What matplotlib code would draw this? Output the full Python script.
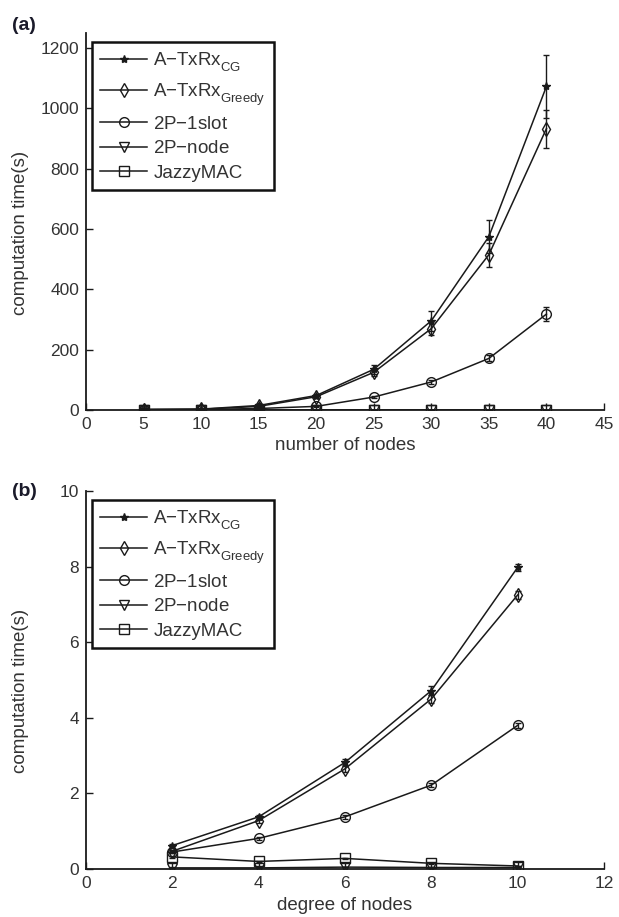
import matplotlib
matplotlib.use("Agg")
import matplotlib.pyplot as plt
import numpy as np

try:
    import matplotlib._mathtext as _mt
    _mt.FontConstantsBase.sub1 = 0.65
    _mt.FontConstantsBase.sub2 = 0.75
except Exception:
    pass

plt.rcParams['font.family'] = ['Liberation Sans', 'DejaVu Sans']
plt.rcParams['mathtext.fontset'] = 'custom'
plt.rcParams['mathtext.rm'] = 'Liberation Sans'
plt.rcParams['mathtext.it'] = 'Liberation Sans:italic'

labels = [r'A$-$TxRx$_{\mathrm{CG}}$', r'A$-$TxRx$_{\mathrm{Greedy}}$',
          r'2P$-$1slot', r'2P$-$node', 'JazzyMAC']
markers = ['*', 'd', 'o', 'v', 's']

# Panel (a): number of nodes
nodes = [5, 10, 15, 20, 25, 30, 35, 40]
a_cg = [2, 3, 15, 48, 135, 296, 575, 1073]
a_cg_err = [0.5, 1, 3, 6, 14, 33, 54, 104]
a_greedy = [1.5, 2.5, 12, 44, 125, 270, 515, 933]
a_greedy_err = [0.5, 1, 2, 5, 12, 22, 40, 63]
a_1slot = [1, 1.5, 5, 12, 43, 93, 171, 318]
a_1slot_err = [0.2, 0.3, 1, 2, 4, 8, 10, 22]
a_node = [1, 1, 1, 1, 1, 1, 1, 1]
a_node_err = [0.1, 0.1, 0.1, 0.1, 0.1, 0.1, 0.1, 0.1]
a_jazzy = [1, 1, 1, 1, 1, 1, 1, 1]
a_jazzy_err = [0.1, 0.1, 0.1, 0.1, 0.1, 0.1, 0.1, 0.1]

# Panel (b): degree of nodes
degree = [2, 4, 6, 8, 10]
b_cg = [0.62, 1.38, 2.82, 4.72, 7.98]
b_cg_err = [0.05, 0.06, 0.08, 0.12, 0.1]
b_greedy = [0.47, 1.28, 2.65, 4.5, 7.25]
b_greedy_err = [0.04, 0.05, 0.08, 0.1, 0.1]
b_1slot = [0.45, 0.81, 1.38, 2.22, 3.8]
b_1slot_err = [0.03, 0.04, 0.05, 0.06, 0.06]
b_node = [0.03, 0.03, 0.05, 0.04, 0.04]
b_node_err = [0.01, 0.01, 0.01, 0.01, 0.01]
b_jazzy = [0.32, 0.2, 0.28, 0.15, 0.08]
b_jazzy_err = [0.02, 0.02, 0.02, 0.01, 0.01]

W, H = 619, 917
fig = plt.figure(figsize=(W / 100, H / 100), dpi=100)

col = '#1a1a1a'
tcol = '#333333'


def panel(rect, x, ys, errs, xlim, xticks, ylim, yticks, xlabel, tag, tagpos):
    ax = fig.add_axes(rect)
    handles = []
    for y, e, m, lab in zip(ys, errs, markers, labels):
        ms = 7 if m != '*' else 6
        cont = ax.errorbar(x, y, yerr=e, color=col, lw=1.1, marker=m, ms=ms,
                           mfc='none' if m != '*' else col, mec=col, mew=1.0,
                           capsize=2.5, elinewidth=1.0, label=lab)
        handles.append(cont[0])
    ax.set_xlim(*xlim)
    ax.set_ylim(*ylim)
    ax.set_xticks(xticks)
    ax.set_yticks(yticks)
    ax.spines['top'].set_visible(False)
    ax.spines['right'].set_visible(False)
    for s in ('left', 'bottom'):
        ax.spines[s].set_color(col)
        ax.spines[s].set_linewidth(1.3)
    ax.tick_params(direction='in', length=5, width=1, colors=col,
                   labelcolor=tcol, labelsize=12.5, pad=5)
    ax.set_xlabel(xlabel, fontsize=13.5, color=tcol, labelpad=4)
    ax.set_ylabel('computation time(s)', fontsize=13.5, color=tcol)
    ax.yaxis.set_label_coords(-(rect[0] * W - 29) / (rect[2] * W), 0.47)
    ax_h = rect[3] * H
    leg = ax.legend(handles, labels, loc='upper left',
                    bbox_to_anchor=(6 / (rect[2] * W), 1 - 9 / ax_h),
                    borderaxespad=0,
                    fontsize=13.5, handlelength=2.5, handletextpad=0.32,
                    labelspacing=0.4, borderpad=0.45, fancybox=False,
                    framealpha=1, edgecolor='#111111')
    leg.get_frame().set_linewidth(1.8)
    for t in leg.get_texts():
        t.set_color(tcol)
    fig.text(tagpos[0] / W, 1 - tagpos[1] / H, tag, fontsize=14,
             fontweight='bold', color='#1a1a2a', va='center', ha='left')
    return ax


L, R = 86, 604
# Panel (a): y 0 at 410, 1250 at ~33
ax1 = panel([L / W, 1 - 410 / H, (R - L) / W, 377 / H], nodes,
            [a_cg, a_greedy, a_1slot, a_node, a_jazzy],
            [a_cg_err, a_greedy_err, a_1slot_err, a_node_err, a_jazzy_err],
            (0, 45), list(range(0, 46, 5)), (0, 1250),
            list(range(0, 1201, 200)), 'number of nodes', '(a)', (12, 25))

# Panel (b): y 0 at 869, 10 at 491
ax2 = panel([L / W, 1 - 869 / H, (R - L) / W, 378 / H], degree,
            [b_cg, b_greedy, b_1slot, b_node, b_jazzy],
            [b_cg_err, b_greedy_err, b_1slot_err, b_node_err, b_jazzy_err],
            (0, 12), list(range(0, 13, 2)), (0, 10),
            list(range(0, 11, 2)), 'degree of nodes', '(b)', (12, 492))

fig.savefig('out.png', dpi=100)
